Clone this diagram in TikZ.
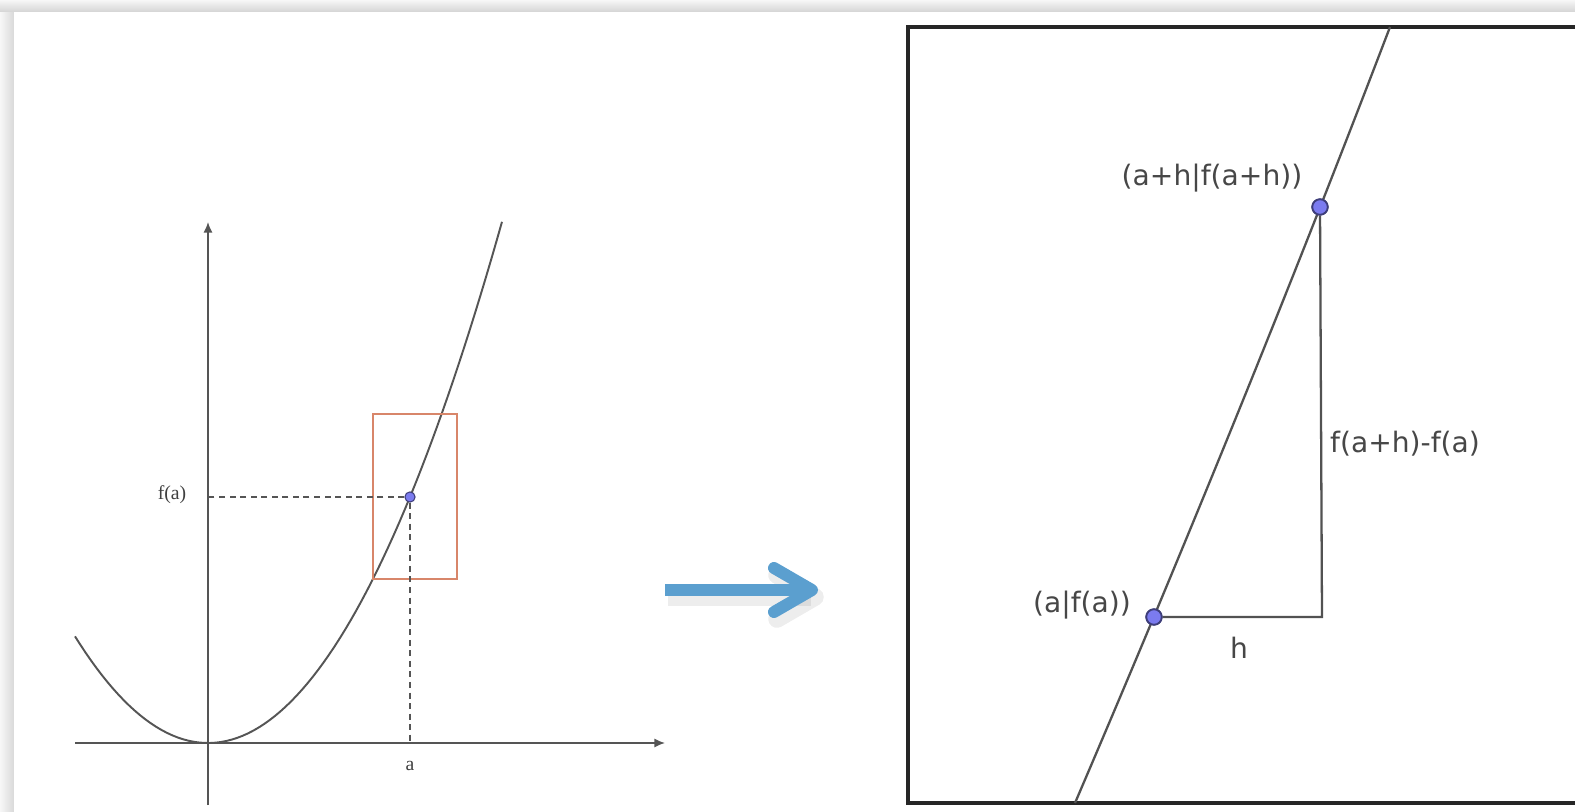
\documentclass[tikz,border=0pt]{standalone}
\usepackage{fontspec}
\newfontfamily\guifont{DejaVu Sans}
\newfontfamily\plotfont{Liberation Serif}
\usetikzlibrary{positioning,arrows.meta,calc}
\definecolor{axisgray}{HTML}{555555}
\definecolor{zoomred}{HTML}{D8866A}
\definecolor{ptblue}{HTML}{7B7BEF}
\definecolor{ptedge}{HTML}{3E3E7A}
\definecolor{arrowblue}{HTML}{5B9FCF}

\begin{document}
\begin{tikzpicture}[x=0.01cm, y=-0.01cm,
  axis/.style={draw=axisgray, line width=0.5pt, -{Latex[length=3pt,width=2.6pt]}},
  curve/.style={draw=axisgray, line width=0.55pt},
  guide/.style={draw=axisgray, line width=0.55pt, dash pattern=on 1.7pt off 1.3pt},
  zoombox/.style={draw=zoomred, line width=0.55pt},
  pt/.style={circle, draw=ptedge, fill=ptblue, inner sep=0pt, minimum size=2.9pt, line width=0.3pt},
  bigpt/.style={pt, minimum size=4.4pt, line width=0.5pt},
  plotlbl/.style={font=\plotfont\fontsize{5.6}{6}\selectfont, text=black!75, inner sep=0pt},
  lbl/.style={font=\guifont\fontsize{8}{9}\selectfont, text=black!72, inner sep=0pt},
  frame/.style={draw=black!85, line width=1.1pt},
  tangent/.style={draw=black!68, line width=0.65pt},
  bigarrow/.style={draw=arrowblue, line width=3.4pt},
  arrowshadow/.style={draw=black, opacity=0.07, line width=5pt},
]
  \useasboundingbox (0,0) rectangle (1575,812);
  \shade[top color=black!3, bottom color=black!17] (0,0) rectangle (1575,12);
  \shade[left color=black!3, right color=black!15] (0,12) rectangle (14,812);
  \fill[white] (14,12) rectangle (1575,812);

  \coordinate (O)     at (208,743);
  \coordinate (xmin)  at (75,743);
  \coordinate (xmax)  at (665,743);
  \coordinate (ymin)  at (208,805);
  \coordinate (ymax)  at (208,222);

  \draw[axis] (xmin) -- (xmax);
  \draw[axis] (ymin) -- (ymax);
  \draw[curve] plot[domain=75:502, samples=80] (\x, {743-(0.07765*(\x-208))^2});
  \draw[zoombox] (373,414) rectangle (457,579);

  \node[pt] (P) at (410,497) {};
  \draw[guide] (P) -- (P -| O);
  \draw[guide] (P) -- (P |- O);
  \node[plotlbl] (fa) at (172,495) {f(a)};
  \node[plotlbl] (a)  at (410,766) {a};

  \coordinate (shaftS) at (665,590);
  \coordinate (shaftE) at (808,590);
  \coordinate (wingU)  at (774,568);
  \coordinate (tip)    at (812,590);
  \coordinate (wingL)  at (774,612);
  \draw[arrowshadow] ($(shaftS)+(3,7)$) -- ($(shaftE)+(3,7)$);
  \draw[arrowshadow, line cap=round, line join=round] ($(wingU)+(3,7)$) -- ($(tip)+(3,7)$) -- ($(wingL)+(3,7)$);
  \draw[bigarrow] (shaftS) -- (shaftE);
  \draw[bigarrow, line cap=round, line join=round] (wingU) -- (tip) -- (wingL);

  \draw[frame] (1580,27) -- (908,27) -- (908,803) -- (1580,803);
  \draw[tangent] (1075,803) .. controls (1186,544) and (1291,286) .. (1390,27);

  \node[bigpt] (A) at (1154,617) {};
  \node[bigpt] (B) at (1320,207) {};
  \coordinate (C) at (1322,617);
  \draw[tangent] (A) -- (C) -- (B);
  \node[bigpt] at (A) {};
  \node[bigpt] at (B) {};

  \node[lbl] (Blbl) at (1212,178) {(a+h|f(a+h))};
  \node[lbl] (Albl) at (1082,605) {(a|f(a))};
  \node[lbl] (dy)   at (1405,444) {f(a+h)-f(a)};
  \node[lbl] (dx)   at (1239,648) {h};
\end{tikzpicture}
\end{document}
